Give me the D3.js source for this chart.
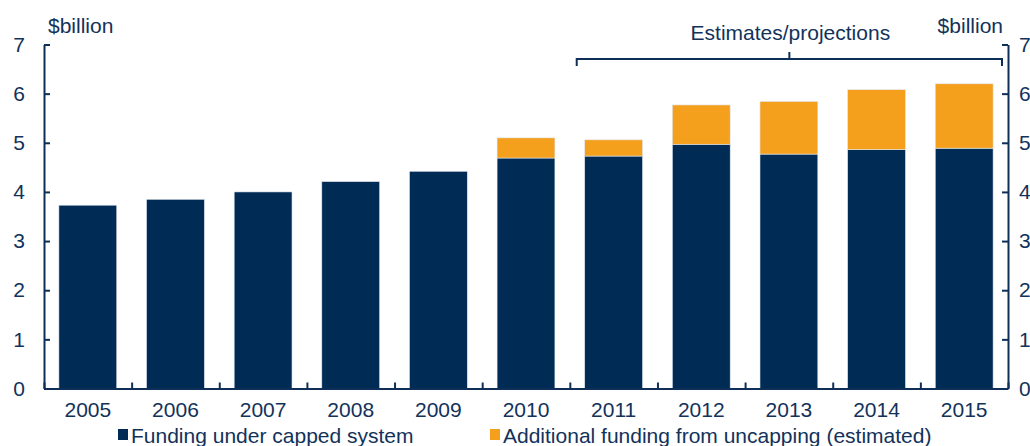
<!DOCTYPE html>
<html lang="en">
<head>
<meta charset="utf-8">
<title>Funding</title>
<script src="https://cdn.jsdelivr.net/npm/d3@7"></script>
<style>
  body { margin: 0; background: #fff; }
  text { font-family: "Liberation Sans", Arial, sans-serif; fill: #12325a; }
</style>
</head>
<body>
<script>
// data
var years = ["2005","2006","2007","2008","2009","2010","2011","2012","2013","2014","2015"];
var capped = [3.73, 3.85, 4.00, 4.21, 4.42, 4.69, 4.73, 4.97, 4.77, 4.86, 4.89];
var additional = [0, 0, 0, 0, 0, 0.41, 0.33, 0.80, 1.07, 1.22, 1.31];
var yTicks = [0, 1, 2, 3, 4, 5, 6, 7];
var seriesNames = ["Funding under capped system", "Additional funding from uncapping (estimated)"];
var colors = ["#002b55", "#f5a01c"];

var w = 1030, h = 446;
var plotLeft = 44, plotRight = 1008, plotTop = 44.5, plotBottom = 388.5;
var axisColor = "#0e2f58";
var fs = "21px";

var svg = d3.select("body").append("svg")
  .attr("width", w).attr("height", h);

var x = d3.scaleBand().domain(years).range([plotLeft, plotRight])
  .paddingInner(0.34).paddingOuter(0.17);
var xEdge = d3.scaleLinear().domain([0, years.length]).range([plotLeft, plotRight]);
var y = d3.scaleLinear().domain([0, 7]).range([plotBottom, plotTop]);

// stacked bars
var rows = years.map(function(yr, i) {
  return { year: yr, capped: capped[i], additional: additional[i] };
});
var stack = d3.stack().keys(["capped", "additional"])(rows);

svg.append("g").selectAll("g")
  .data(stack).enter().append("g")
  .attr("fill", function(d, i) { return colors[i]; })
  .selectAll("rect")
  .data(function(d) { return d.filter(function(p) { return p[1] - p[0] > 0; }); }).enter()
  .append("rect")
  .attr("x", function(d) { return x(d.data.year); })
  .attr("width", x.bandwidth())
  .attr("y", function(d) { return y(d[1]); })
  .attr("height", function(d) { return y(d[0]) - y(d[1]); })
  .attr("stroke", "#dfe6ee")
  .attr("stroke-width", 0.6);

// axes
function styleAxis(g) {
  g.selectAll("path, line").attr("stroke", axisColor).attr("stroke-width", 2);
  g.selectAll("text").attr("fill", "#12325a").attr("font-size", fs)
    .attr("font-family", "Liberation Sans, Arial, sans-serif");
}

svg.append("g")
  .attr("transform", "translate(" + plotLeft + ",0)")
  .call(d3.axisLeft(y).tickValues(yTicks).tickFormat(d3.format("d"))
    .tickSizeInner(-6).tickSizeOuter(0).tickPadding(19))
  .call(styleAxis);

svg.append("g")
  .attr("transform", "translate(" + plotRight + ",0)")
  .call(d3.axisRight(y).tickValues(yTicks).tickFormat(d3.format("d"))
    .tickSizeInner(-6).tickSizeOuter(0).tickPadding(11))
  .call(styleAxis);

svg.append("g")
  .attr("transform", "translate(0," + plotBottom + ")")
  .call(d3.axisBottom(xEdge).tickValues(d3.range(0, years.length + 1)).tickSizeInner(-6).tickSizeOuter(0).tickFormat(""))
  .call(styleAxis);

svg.append("g")
  .attr("transform", "translate(0," + plotBottom + ")")
  .call(d3.axisBottom(x).tickSize(0).tickPadding(14))
  .call(styleAxis)
  .call(function(g) { g.select(".domain").remove(); });

// unit labels
svg.append("text").attr("x", 48).attr("y", 33).attr("font-size", fs).text("$billion");
svg.append("text").attr("x", 1003).attr("y", 33).attr("text-anchor", "end").attr("font-size", fs).text("$billion");

// estimates bracket
var bx0 = x("2011") - 8, bx1 = plotRight - 6, by = 59;
var bmid = (bx0 + bx1) / 2;
svg.append("path")
  .attr("d", "M" + bx0 + "," + (by + 7) + "V" + by + "H" + bx1 + "V" + (by + 7) + "M" + bmid + "," + by + "V" + (by - 7))
  .attr("fill", "none").attr("stroke", axisColor).attr("stroke-width", 2);
svg.append("text").attr("x", bmid + 1).attr("y", 40).attr("text-anchor", "middle")
  .attr("font-size", fs).text("Estimates/projections");

// legend
var legendX = [118, 490];
var legend = svg.append("g").selectAll("g")
  .data(seriesNames).enter().append("g")
  .attr("transform", function(d, i) { return "translate(" + legendX[i] + ",429)"; });
legend.append("rect").attr("width", 10).attr("height", 11)
  .attr("fill", function(d, i) { return colors[i]; });
legend.append("text").attr("x", 13).attr("y", 14).attr("font-size", fs)
  .text(function(d) { return d; });
</script>
</body>
</html>
